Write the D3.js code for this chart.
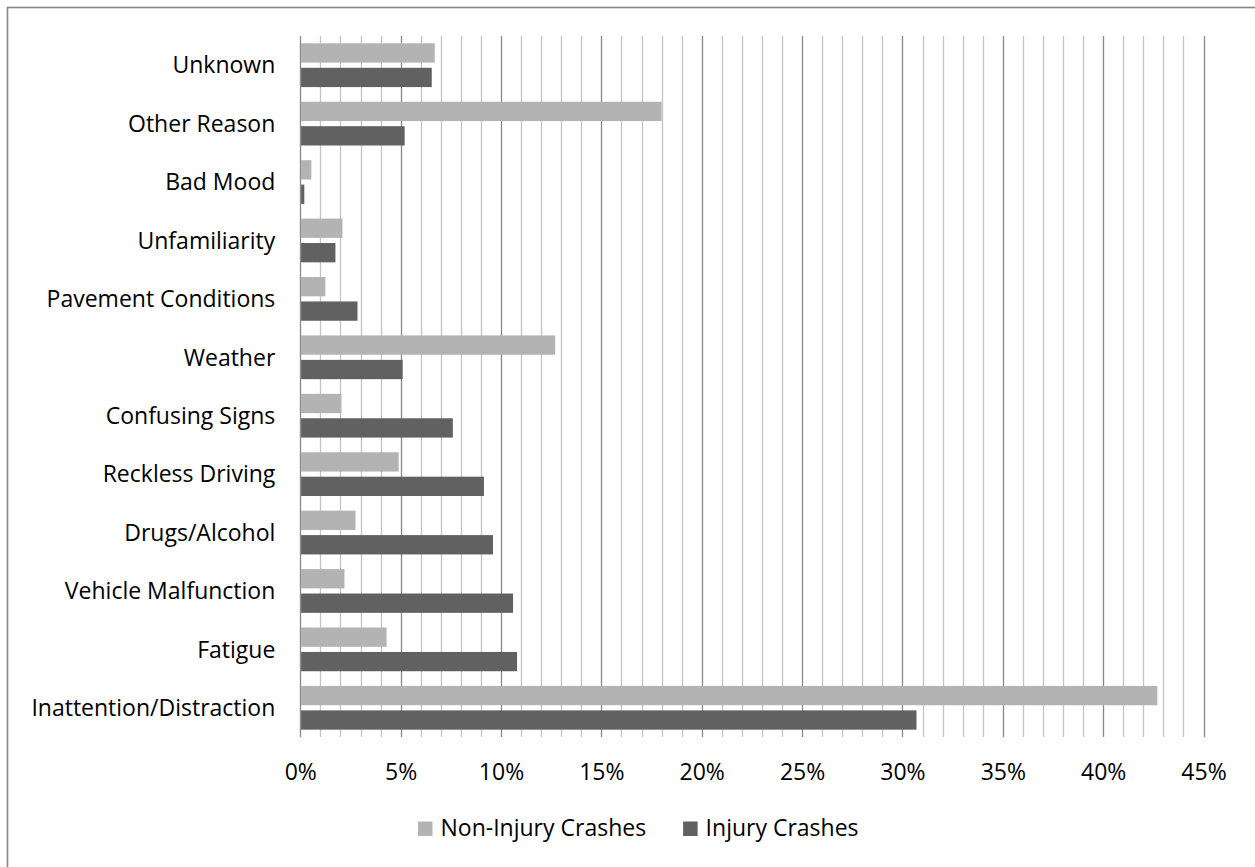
<!DOCTYPE html>
<html>
<head>
<meta charset="utf-8">
<script src="https://cdn.jsdelivr.net/npm/d3@7"></script>
<style>
  html, body { margin: 0; padding: 0; background: #fff; }
  svg { display: block; }
  text { font-family: "Open Sans", "Noto Sans", sans-serif; fill: #000; }
</style>
</head>
<body>
<svg id="chart" width="1255" height="867"></svg>
<script>
// Crash contributing factors, listed top to bottom
const categories = [
  "Unknown", "Other Reason", "Bad Mood", "Unfamiliarity", "Pavement Conditions",
  "Weather", "Confusing Signs", "Reckless Driving", "Drugs/Alcohol",
  "Vehicle Malfunction", "Fatigue", "Inattention/Distraction"
];
const seriesNames = ["Non-Injury Crashes", "Injury Crashes"];
// Share of crashes (%)
const nonInjury = [6.7, 18.0, 0.55, 2.1, 1.25, 12.7, 2.05, 4.9, 2.75, 2.2, 4.3, 42.7];
const injury    = [6.55, 5.2, 0.2, 1.75, 2.85, 5.1, 7.6, 9.15, 9.6, 10.6, 10.8, 30.7];
const tickValues = [0, 5, 10, 15, 20, 25, 30, 35, 40, 45];
const tickLabels = ["0%", "5%", "10%", "15%", "20%", "25%", "30%", "35%", "40%", "45%"];

const colors = { "Non-Injury Crashes": "#b3b3b3", "Injury Crashes": "#616161" };
const fontSize = 23;

const svg = d3.select("#chart");

// Outer chart frame
svg.append("rect")
  .attr("x", 7.5).attr("y", 7.5)
  .attr("width", 1400).attr("height", 1000)
  .attr("fill", "none").attr("stroke", "#888").attr("stroke-width", 1.6);

const plot = { left: 300.3, right: 1203.5, top: 36, bottom: 737 };

const x = d3.scaleLinear().domain([0, 45]).range([plot.left, plot.right]);
const y = d3.scaleBand().domain(categories).range([plot.top, plot.bottom]);
const ySub = d3.scaleBand().domain(seriesNames)
  .range([0, y.bandwidth()]).paddingInner(0.21).paddingOuter(0.3);

// Vertical gridlines: every 1%, heavier every 5%
const gridTicks = d3.range(0, 46);
svg.append("g").selectAll("line")
  .data(gridTicks)
  .join("line")
  .attr("x1", d => Math.round(x(d)) + 0.5)
  .attr("x2", d => Math.round(x(d)) + 0.5)
  .attr("y1", plot.top)
  .attr("y2", plot.bottom)
  .attr("stroke", d => d % 5 === 0 ? "#888888" : "#c4c4c4")
  .attr("stroke-width", 1.3);

// Bars
const rows = categories.map((c, i) => ({
  category: c,
  values: [
    { series: seriesNames[0], value: nonInjury[i] },
    { series: seriesNames[1], value: injury[i] }
  ]
}));

svg.append("g").selectAll("g")
  .data(rows)
  .join("g")
  .attr("transform", d => `translate(0,${y(d.category)})`)
  .selectAll("rect")
  .data(d => d.values)
  .join("rect")
  .attr("x", x(0) + 0.8)
  .attr("y", d => ySub(d.series))
  .attr("width", d => x(d.value) - x(0) - 0.8)
  .attr("height", ySub.bandwidth())
  .attr("fill", d => colors[d.series]);

// Category axis labels
const yAxis = d3.axisLeft(y).tickSize(0).tickPadding(25);
const yg = svg.append("g").attr("transform", `translate(${plot.left},0)`).call(yAxis);
yg.select(".domain").remove();
yg.selectAll("text").attr("font-size", fontSize).attr("fill", "#000")
  .attr("font-family", '"Open Sans", sans-serif')
  .attr("dy", "0.36em");

// Percent axis labels
const xAxis = d3.axisBottom(x).tickValues(tickValues)
  .tickFormat((d, i) => tickLabels[i]).tickSize(0).tickPadding(0);
const xg = svg.append("g").attr("transform", `translate(0,780)`).call(xAxis);
xg.select(".domain").remove();
xg.selectAll("text").attr("font-size", fontSize).attr("fill", "#000")
  .attr("font-family", '"Open Sans", sans-serif')
  .attr("dy", 0);

// Legend
const legend = svg.append("g");
let lx = 418;
seriesNames.forEach((name) => {
  legend.append("rect")
    .attr("x", lx).attr("y", 821.5)
    .attr("width", 14.5).attr("height", 14.5)
    .attr("fill", colors[name]);
  const t = legend.append("text")
    .attr("x", lx + 22.5).attr("y", 835.5)
    .attr("font-size", fontSize)
    .text(name);
  lx = lx + 22.5 + t.node().getComputedTextLength() + 37;
});
</script>
</body>
</html>
